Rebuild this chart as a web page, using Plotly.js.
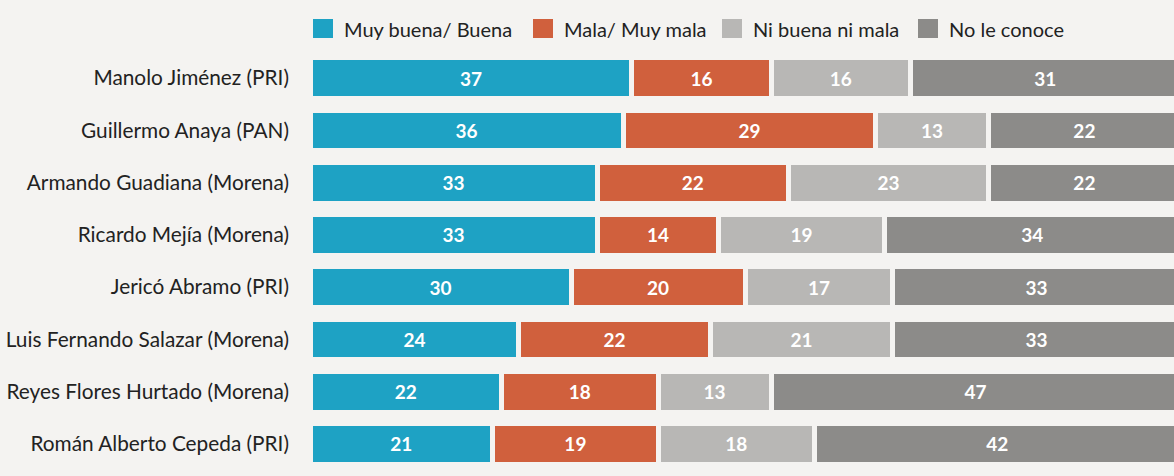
<!DOCTYPE html>
<html><head><meta charset="utf-8">
<script src="https://cdn.plot.ly/plotly-3.0.1.min.js"></script>
<style>html,body{margin:0;padding:0;background:#f4f3f1;}#chart{width:1174px;height:476px;}</style>
</head><body><div id="chart"></div>
<script>
const candidates = ["Manolo Jiménez (PRI)","Guillermo Anaya (PAN)","Armando Guadiana (Morena)","Ricardo Mejía (Morena)","Jericó Abramo (PRI)","Luis Fernando Salazar (Morena)","Reyes Flores Hurtado (Morena)","Román Alberto Cepeda (PRI)"];
const buena = [37,36,33,33,30,24,22,21];
const mala = [16,29,22,14,20,22,18,19];
const ni = [16,13,23,19,17,21,13,18];
const noConoce = [31,22,22,34,33,33,47,42];
const seriesNames = ["Muy buena/ Buena","Mala/ Muy mala","Ni buena ni mala","No le conoce"];
const colors = ["#1ea2c4","#d0603d","#b8b7b5","#8c8b89"];
const bg = "#f4f3f1";
const vals = [buena, mala, ni, noConoce];

const W = 1174, H = 476, ML = 310, MR = 0, MT = 52, MB = 6;
const PW = W - ML - MR, PH = H - MT - MB;
const px2x = p => (p - ML) / PW;
const py2y = p => (H - MB - p) / PH;

const traces = vals.map((v,i)=>({
  type:'bar', orientation:'h', name:seriesNames[i], y:candidates, x:v,
  text:v.map(String), textposition:'inside', insidetextanchor:'middle', textangle:0,
  textfont:{family:'Lato', size:19, color:'#ffffff', weight:'bold'},
  marker:{color:colors[i], line:{color:bg, width:5}},
  hoverinfo:'skip', showlegend:false
}));

// manual legend
const legendSquares = [313, 533, 722, 918];
const shapes = [], annotations = [];
legendSquares.forEach((sx,i)=>{
  shapes.push({type:'rect', xref:'paper', yref:'paper', x0:px2x(sx), x1:px2x(sx+20), y0:py2y(38), y1:py2y(19),
    fillcolor:colors[i], line:{width:0}});
  annotations.push({xref:'paper', yref:'paper', x:px2x(sx+29), y:py2y(29), xanchor:'left', yanchor:'middle',
    text:seriesNames[i], showarrow:false, font:{family:'Lato', size:20, color:'#222'}});
});

const layout = {
  width:W, height:H, barmode:'stack', bargap:0.22,
  paper_bgcolor:bg, plot_bgcolor:bg,
  margin:{l:ML, r:MR, t:MT, b:MB},
  xaxis:{range:[0,99.3], visible:false, fixedrange:true},
  yaxis:{type:'category', range:[7.5,-0.5], showgrid:false, zeroline:false, showline:false, ticks:'',
    ticklabelstandoff:20, tickfont:{family:'Lato', size:20.8, color:'#222'}},
  showlegend:false, shapes:shapes, annotations:annotations
};
Plotly.newPlot('chart', traces, layout, {displayModeBar:false, staticPlot:true});
</script></body></html>
